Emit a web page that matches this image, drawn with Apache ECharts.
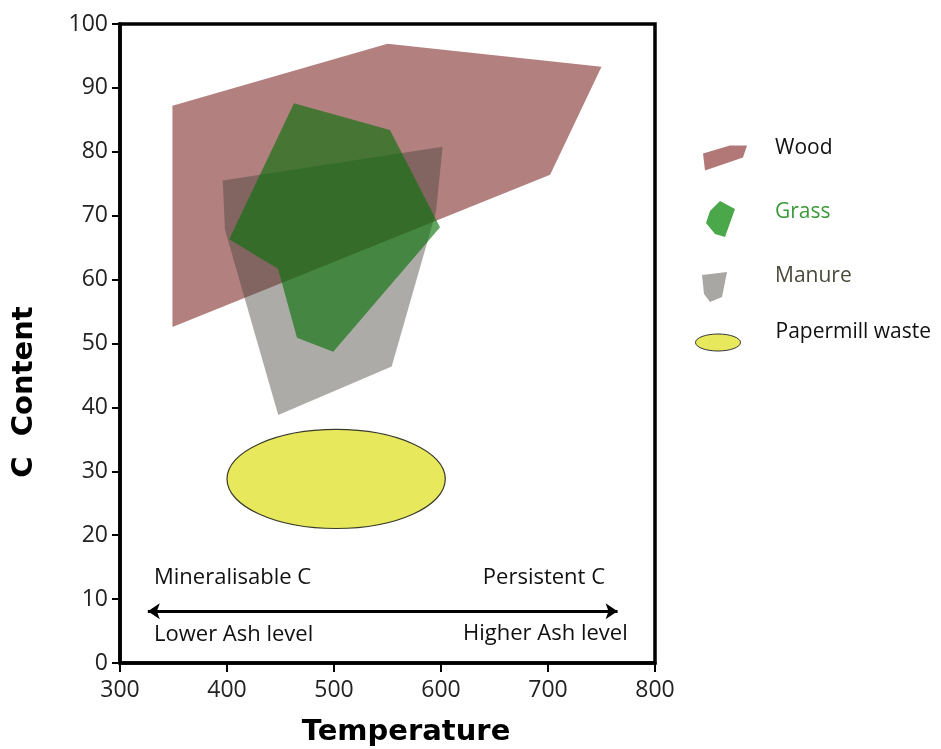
<!DOCTYPE html>
<html><head><meta charset="utf-8">
<script src="https://cdn.jsdelivr.net/npm/echarts@6/dist/echarts.min.js"></script>
<style>html,body{margin:0;padding:0;background:#fff}#c{width:941px;height:749px}</style>
</head><body><div id="c"></div>
<script>
// ---- data ----
const xTicks = [300, 400, 500, 600, 700, 800];
const yTicks = [0, 10, 20, 30, 40, 50, 60, 70, 80, 90, 100];
const woodPoly = [[349, 87.2], [550, 96.9], [750, 93.3], [702, 76.4], [349, 52.6]];
const manurePoly = [[396, 75.5], [601.6, 80.8], [595.3, 70.6], [553.9, 46.4], [447.9, 38.8], [398.1, 67.8]];
const grassPoly = [[462.6, 87.6], [552.3, 83.4], [599.1, 68.2], [499.3, 48.7], [465.4, 50.9], [447.7, 61.7], [402.1, 66.3]];
const papermillCenter = [502, 28.8];
const papermillRadii = [102, 7.75];
const arrowStart = [326, 8.1];
const arrowEnd = [765, 8.1];
const annotationTexts = ['Mineralisable C', 'Lower Ash level', 'Persistent C', 'Higher Ash level'];
const annotationX = [331.8, 331.8, 753.3, 774.5];
const annotationY = [13.3, 4.5, 13.3, 4.6];
const annotationAlign = ['left', 'left', 'right', 'right'];
const seriesNames = ['Wood', 'Grass', 'Manure', 'Papermill waste'];

// ---- chart ----
const chart = echarts.init(document.getElementById('c'), null, {renderer: 'canvas'});
const tickFont = 'Open Sans';

function polySeries(name, poly, color, z) {
  return {
    type: 'custom', name: name, coordinateSystem: 'cartesian2d', z: z,
    itemStyle: {color: color},
    data: poly,
    renderItem: function (params, api) {
      if (params.dataIndex !== 0) return null;
      return {
        type: 'polygon',
        shape: {points: poly.map(function (p) { return api.coord(p); })},
        style: {fill: color}
      };
    }
  };
}

const option = {
  animation: false,
  backgroundColor: '#fff',
  grid: {left: 120, top: 24, width: 535, height: 639, show: true, borderColor: '#000', borderWidth: 3.5, backgroundColor: 'rgba(0,0,0,0)'},
  xAxis: {
    type: 'value', min: xTicks[0], max: xTicks[xTicks.length - 1], interval: xTicks[1] - xTicks[0],
    axisLine: {show: true, lineStyle: {color: '#000', width: 3.5}},
    axisTick: {show: true, inside: false, length: 9, lineStyle: {color: '#000', width: 2}},
    axisLabel: {fontSize: 23, color: '#222', fontFamily: tickFont, margin: 16},
    splitLine: {show: false}
  },
  yAxis: {
    type: 'value', min: yTicks[0], max: yTicks[yTicks.length - 1], interval: yTicks[1] - yTicks[0],
    axisLine: {show: true, lineStyle: {color: '#000', width: 3.5}},
    axisTick: {show: true, inside: false, length: 8, lineStyle: {color: '#000', width: 2}},
    axisLabel: {fontSize: 23, color: '#222', fontFamily: tickFont, margin: 12},
    splitLine: {show: false}
  },
  legend: [
    {left: 703, top: 125.5, padding: 0, itemWidth: 44, itemHeight: 45, selectedMode: false,
      data: [{name: seriesNames[0], icon: 'path://M0,-20M0,8L27,0L44,0L40,12L2,25Z', itemStyle: {color: '#b27878'}}],
      textStyle: {fontSize: 21, color: '#111', fontFamily: tickFont, padding: [0, 0, 0, 23]}},
    {left: 706, top: 187, padding: 0, itemWidth: 29, itemHeight: 50, selectedMode: false,
      data: [{name: seriesNames[1], icon: 'path://M0,-14M14,0L29,8L24,22L19,36L9,33L0,22L4,10Z', itemStyle: {color: '#4aa84a'}}],
      textStyle: {fontSize: 21, color: '#3a9a3a', fontFamily: tickFont, padding: [0, 0, 0, 35]}},
    {left: 702, top: 250, padding: 0, itemWidth: 25, itemHeight: 52, selectedMode: false,
      data: [{name: seriesNames[2], icon: 'path://M0,-22M0,3L25,0L20,25L8,30L2,22Z', itemStyle: {color: '#a9a7a4'}}],
      textStyle: {fontSize: 21, color: '#4a4a3c', fontFamily: tickFont, padding: [0, 0, 0, 43]}},
    {left: 695, top: 313.5, padding: 0, itemWidth: 45, itemHeight: 37, selectedMode: false,
      data: [{name: seriesNames[3], icon: 'path://M0,-20M22.5,0C34.9,0 45,3.8 45,8.5C45,13.2 34.9,17 22.5,17C10.1,17 0,13.2 0,8.5C0,3.8 10.1,0 22.5,0Z', itemStyle: {color: '#e8e85c', borderColor: '#333', borderWidth: 1}}],
      textStyle: {fontSize: 21, color: '#111', fontFamily: tickFont, padding: [0, 0, 0, 30]}}
  ],
  graphic: [
    {type: 'text', x: 406, y: 732, style: {text: 'Temperature', font: 'bold 29px "DejaVu Sans"', fill: '#000', align: 'center', verticalAlign: 'middle'}},
    {type: 'text', x: 24, y: 392, rotation: Math.PI / 2, style: {text: 'C  Content', font: 'bold 29px "DejaVu Sans"', fill: '#000', align: 'center', verticalAlign: 'middle'}}
  ],
  series: [
    polySeries(seriesNames[0], woodPoly, '#b38080', 2),
    polySeries(seriesNames[2], manurePoly, 'rgba(70,68,60,0.45)', 3),
    polySeries(seriesNames[1], grassPoly, 'rgba(10,112,10,0.64)', 4),
    {
      type: 'custom', name: seriesNames[3], coordinateSystem: 'cartesian2d', z: 5,
      itemStyle: {color: '#e8e85c'},
      data: [papermillCenter],
      renderItem: function (params, api) {
        const c = api.coord(papermillCenter);
        const s = api.size(papermillRadii);
        return {type: 'ellipse', shape: {cx: c[0], cy: c[1], rx: s[0], ry: s[1]},
          style: {fill: '#e8e85c', stroke: '#3a3a2a', lineWidth: 1.2}};
      }
    },
    {
      type: 'lines', coordinateSystem: 'cartesian2d', z: 6,
      symbol: ['arrow', 'arrow'], symbolSize: [12, 12],
      lineStyle: {color: '#000', width: 3, opacity: 1},
      data: [{coords: [arrowStart, arrowEnd]}]
    },
    {
      type: 'custom', name: 'annotations', coordinateSystem: 'cartesian2d', z: 7,
      data: annotationTexts.map(function (t, i) { return [annotationX[i], annotationY[i]]; }),
      renderItem: function (params, api) {
        const i = params.dataIndex;
        const p = api.coord([annotationX[i], annotationY[i]]);
        return {type: 'text', x: p[0], y: p[1],
          style: {text: annotationTexts[i], fill: '#111', fontSize: 22, fontFamily: tickFont, align: annotationAlign[i], verticalAlign: 'middle'}};
      }
    }
  ]
};
chart.setOption(option);
</script></body></html>
